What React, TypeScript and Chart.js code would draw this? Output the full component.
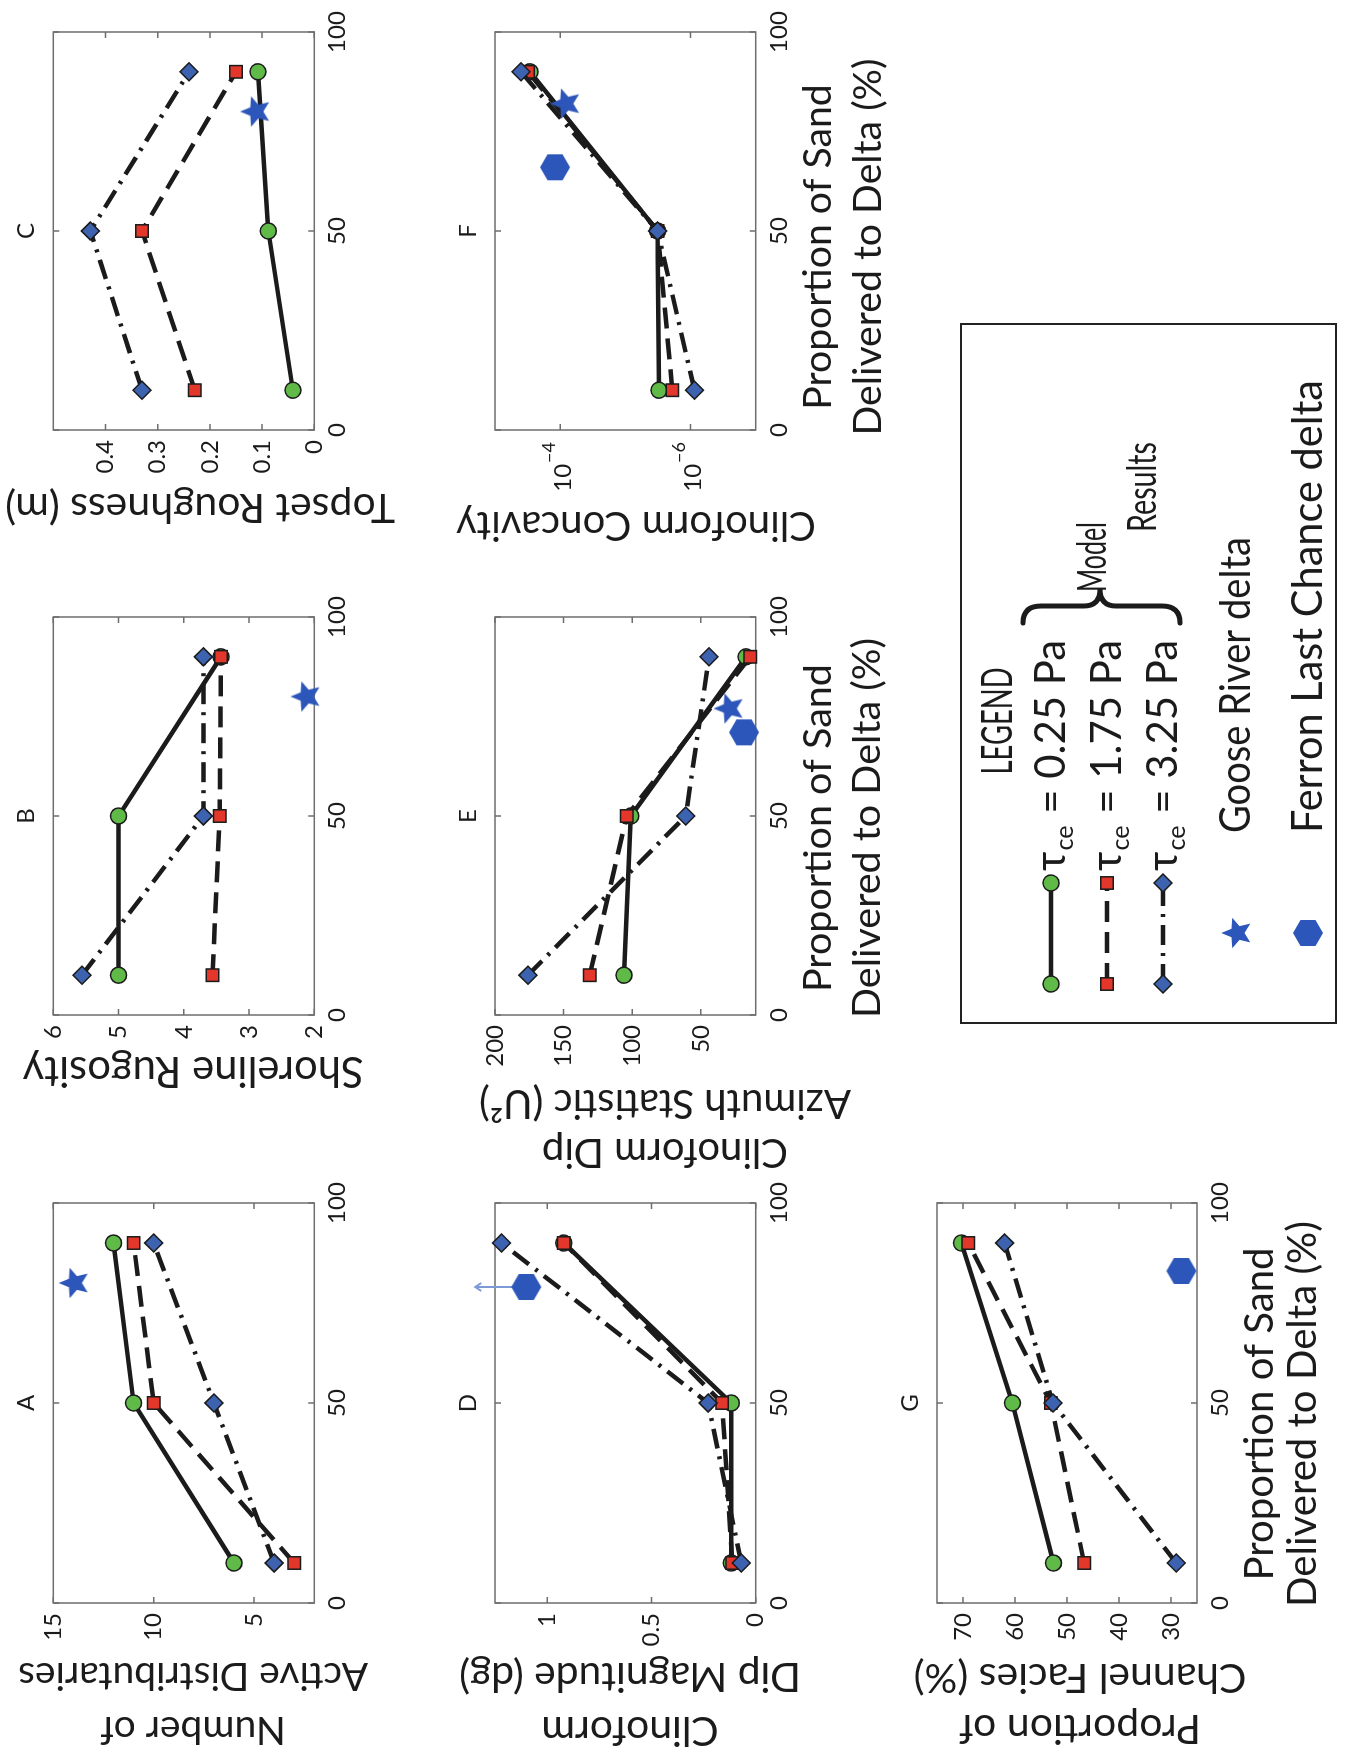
import React, { useEffect, useRef } from "react";
import { Chart, registerables } from "chart.js";

Chart.register(...registerables);

// ---------- frame (the original figure is drawn upright, then turned 90° CCW) ----------
const W = 1753;
const H = 1355;
const FONT = "Lato, 'Open Sans', 'DejaVu Sans', sans-serif";
const GREEN = "#5fba47";
const RED = "#e2372a";
const BLUE = "#3d62b0";
const FIELD = "#2c56b9";
const INK = "#1b1b1b";
const FRAME = "#6e6e6e";
const Y_AXIS_W = 90;
const X_AXIS_H = 40;
const TICK_SIZE = 24;

// ---------- data ----------
const sandPct = [10, 50, 90];
const xTickValues = [0, 50, 100];

const aTau025 = [6, 11, 12];
const aTau175 = [3, 10, 11];
const aTau325 = [4, 7, 10];
const aGoose = [{ x: 80, y: 14 }];
const aTicks = [5, 10, 15];

const bTau025 = [5.0, 5.0, 3.43];
const bTau175 = [3.56, 3.45, 3.43];
const bTau325 = [5.56, 3.7, 3.7];
const bGoose = [{ x: 80, y: 2.14 }];
const bTicks = [2, 3, 4, 5, 6];

const cTau025 = [0.041, 0.088, 0.108];
const cTau175 = [0.229, 0.33, 0.15];
const cTau325 = [0.33, 0.429, 0.24];
const cGoose = [{ x: 80, y: 0.114 }];
const cTicks = [0, 0.1, 0.2, 0.3, 0.4];

const dTau025 = [0.117, 0.117, 0.92];
const dTau175 = [0.112, 0.161, 0.92];
const dTau325 = [0.069, 0.228, 1.219];
const dFerron = [{ x: 79, y: 1.1 }];
const dFerronArrowTip = 1.345;
const dTicks = [0, 0.5, 1];

const eTau025 = [106, 101, 17];
const eTau175 = [131, 104, 14];
const eTau325 = [176, 61, 44];
const eGoose = [{ x: 77, y: 30 }];
const eFerron = [{ x: 71, y: 18.5 }];
const eTicks = [50, 100, 150, 200];

const fTau025 = [3.05e-6, 3.2e-6, 2.9e-4];
const fTau175 = [1.9e-6, 3.2e-6, 3.1e-4];
const fTau325 = [8.7e-7, 3.2e-6, 4.0e-4];
const fGoose = [{ x: 82, y: 8.5e-5 }];
const fFerron = [{ x: 66, y: 1.2e-4 }];
const fTicks = [1e-6, 1e-4];
const fTickExp = [-6, -4];

const gTau025 = [52.6, 60.5, 70.3];
const gTau175 = [46.7, 53.1, 69.0];
const gTau325 = [29.0, 52.7, 62.0];
const gFerron = [{ x: 83, y: 28 }];
const gTicks = [30, 40, 50, 60, 70];

const legendTau = [" = 0.25 Pa", " = 1.75 Pa", " = 3.25 Pa"];

const X_TITLE = ["Proportion of Sand", "Delivered to Delta (%)"];

// ---------- panel layout ----------
const PANELS: any[] = [
  {
    id: "A", area: [150, 53.3, 550, 314.3], yMin: 2, yMax: 15, yTicks: aTicks,
    s025: aTau025, s175: aTau175, s325: aTau325, goose: aGoose,
    yTitle: { lines: ["Number of", "Active Distributaries"], xs: [23, 77], y: 193, fit: 350 },
  },
  {
    id: "B", area: [738, 53.3, 1136, 314.3], yMin: 2, yMax: 6, yTicks: bTicks,
    s025: bTau025, s175: bTau175, s325: bTau325, goose: bGoose,
    yTitle: { lines: ["Shoreline Rugosity"], xs: [682], y: 193, fit: 341 },
  },
  {
    id: "C", area: [1323, 53.3, 1721, 314.3], yMin: 0, yMax: 0.5, yTicks: cTicks,
    s025: cTau025, s175: cTau175, s325: cTau325, goose: cGoose,
    yTitle: { lines: ["Topset Roughness (m)"], xs: [1246], y: 200, fit: 390 },
  },
  {
    id: "D", area: [150, 495, 550, 755.7], yMin: 0, yMax: 1.25, yTicks: dTicks,
    s025: dTau025, s175: dTau175, s325: dTau325, ferron: dFerron, arrowTip: dFerronArrowTip,
    yTitle: { lines: ["Clinoform", "Dip Magnitude (dg)"], xs: [23, 77], y: 630, fit: 342 },
  },
  {
    id: "E", area: [738, 495, 1136, 755.7], yMin: 10, yMax: 200, yTicks: eTicks,
    s025: eTau025, s175: eTau175, s325: eTau325, goose: eGoose, ferron: eFerron,
    yTitle: { lines: ["Clinoform Dip", "Azimuth Statistic (U\u00B2)"], xs: [601, 650], y: 665, fit: 372 },
    xTitle: { x: 925, ys: [818, 867], fit: 380 },
  },
  {
    id: "F", area: [1323, 495, 1721, 755.7], yMin: 1e-7, yMax: 1e-3, yTicks: fTicks, log: true,
    s025: fTau025, s175: fTau175, s325: fTau325, goose: fGoose, ferron: fFerron,
    yTitle: { lines: ["Clinoform Concavity"], xs: [1228], y: 636, fit: 360 },
    xTitle: { x: 1506, ys: [818, 868], fit: 377 },
  },
  {
    id: "G", area: [150, 937, 550, 1197], yMin: 25, yMax: 75, yTicks: gTicks,
    s025: gTau025, s175: gTau175, s325: gTau325, ferron: gFerron,
    yTitle: { lines: ["Proportion of", "Channel Facies (%)"], xs: [25, 76], y: 1080, fit: 333 },
    xTitle: { x: 339, ys: [1260, 1303], fit: 386 },
    legend: true,
  },
];

// ---------- helpers ----------
function fitSize(ctx: CanvasRenderingContext2D, text: string, width: number) {
  ctx.font = `100px ${FONT}`;
  return (100 * width) / ctx.measureText(text).width;
}

// text in a given font size, squeezed horizontally to a given width (condensed look)
function drawCondensed(
  ctx: CanvasRenderingContext2D, text: string, x: number, y: number,
  size: number, width: number, align: "left" | "center"
) {
  ctx.save();
  ctx.font = `${size}px ${FONT}`;
  const k = width / ctx.measureText(text).width;
  ctx.translate(x, y);
  ctx.scale(k, 1);
  ctx.textAlign = align;
  ctx.textBaseline = "middle";
  ctx.fillText(text, 0, 0);
  ctx.restore();
}

function makeStar(r: number) {
  const c = document.createElement("canvas");
  c.width = c.height = Math.ceil(2 * r + 4);
  const ctx = c.getContext("2d")!;
  ctx.translate(c.width / 2, c.height / 2 + r * 0.08);
  ctx.beginPath();
  for (let i = 0; i < 10; i++) {
    const rad = i % 2 ? r * 0.45 : r;
    const a = -Math.PI / 2 + (i * Math.PI) / 5;
    ctx.lineTo(rad * Math.cos(a), rad * Math.sin(a));
  }
  ctx.closePath();
  ctx.fillStyle = FIELD;
  ctx.fill();
  return c;
}

function makeHex(r: number) {
  const c = document.createElement("canvas");
  c.width = c.height = Math.ceil(2 * r + 4);
  const ctx = c.getContext("2d")!;
  ctx.translate(c.width / 2, c.height / 2);
  ctx.beginPath();
  for (let i = 0; i < 6; i++) {
    const a = -Math.PI / 2 + (i * Math.PI) / 3;
    ctx.lineTo(r * Math.cos(a), r * Math.sin(a));
  }
  ctx.closePath();
  ctx.fillStyle = FIELD;
  ctx.fill();
  return c;
}

function drawMarker(ctx: CanvasRenderingContext2D, kind: string, x: number, y: number) {
  ctx.save();
  ctx.setLineDash([]);
  ctx.lineWidth = 1.5;
  ctx.strokeStyle = INK;
  ctx.beginPath();
  if (kind === "circle") {
    ctx.arc(x, y, 8, 0, Math.PI * 2);
    ctx.fillStyle = GREEN;
  } else if (kind === "square") {
    ctx.rect(x - 6.2, y - 6.2, 12.4, 12.4);
    ctx.fillStyle = RED;
  } else {
    ctx.moveTo(x - 9, y);
    ctx.lineTo(x, y - 9);
    ctx.lineTo(x + 9, y);
    ctx.lineTo(x, y + 9);
    ctx.closePath();
    ctx.fillStyle = BLUE;
  }
  ctx.fill();
  ctx.stroke();
  ctx.restore();
}

const DASH_175 = [21, 10];
const DASH_325 = [20, 8, 3, 8];

function drawLegend(ctx: CanvasRenderingContext2D, star: HTMLCanvasElement, hex: HTMLCanvasElement) {
  ctx.save();
  ctx.strokeStyle = "#222";
  ctx.lineWidth = 2;
  ctx.strokeRect(730, 961, 699, 375);
  ctx.fillStyle = INK;

  drawCondensed(ctx, "LEGEND", 1032, 998, 42, 107, "center");

  // model rows
  const rowsY = [1051, 1107, 1163];
  const kinds = ["circle", "square", "diamond"];
  const dashes = [[], DASH_175, DASH_325];
  ctx.font = `100px ${FONT}`;
  const wTau = ctx.measureText("\u03C4").width;
  ctx.font = `60px ${FONT}`;
  const wCe = ctx.measureText("ce").width;
  ctx.font = `100px ${FONT}`;
  const wRest = ctx.measureText(legendTau[0]).width;
  const ts = (100 * 230) / (wTau + wCe + 2 + wRest);
  rowsY.forEach((y, i) => {
    ctx.save();
    ctx.strokeStyle = INK;
    ctx.lineWidth = 4.5;
    ctx.setLineDash(dashes[i]);
    ctx.beginPath();
    ctx.moveTo(769, y);
    ctx.lineTo(870, y);
    ctx.stroke();
    ctx.restore();
    drawMarker(ctx, kinds[i], 769, y);
    drawMarker(ctx, kinds[i], 870, y);
    ctx.textAlign = "left";
    ctx.textBaseline = "middle";
    let x = 882;
    ctx.font = `${ts}px ${FONT}`;
    ctx.fillText("\u03C4", x, y);
    x += ctx.measureText("\u03C4").width + 1;
    ctx.font = `${ts * 0.6}px ${FONT}`;
    ctx.fillText("ce", x, y + ts * 0.32);
    x += ctx.measureText("ce").width + 1;
    ctx.font = `${ts}px ${FONT}`;
    ctx.fillText(legendTau[i], x, y);
  });

  // brace
  const x0 = 1130, x1 = 1164, y0 = 1023, y1 = 1180, ym = 1100;
  const xm = (x0 + x1) / 2;
  ctx.save();
  ctx.strokeStyle = INK;
  ctx.lineWidth = 5;
  ctx.lineCap = "round";
  ctx.beginPath();
  ctx.moveTo(x0, y0);
  ctx.quadraticCurveTo(xm, y0, xm, y0 + 18);
  ctx.lineTo(xm, ym - 16);
  ctx.quadraticCurveTo(xm, ym, x1, ym);
  ctx.quadraticCurveTo(xm, ym, xm, ym + 16);
  ctx.lineTo(xm, y1 - 18);
  ctx.quadraticCurveTo(xm, y1, x0, y1);
  ctx.stroke();
  ctx.restore();

  drawCondensed(ctx, "Model", 1196, 1093, 40, 70, "center");
  drawCondensed(ctx, "Results", 1266, 1143, 40, 90, "center");

  // field data
  ctx.drawImage(star, 820 - star.width / 2, 1236 - star.height / 2);
  ctx.drawImage(hex, 820 - hex.width / 2, 1308 - hex.height / 2);
  drawCondensed(ctx, "Goose River delta", 920, 1236, 42, 296, "left");
  drawCondensed(ctx, "Ferron Last Chance delta", 920, 1308, 42, 453, "left");
  ctx.restore();
}

function panelPlugin(p: any, star: HTMLCanvasElement, hex: HTMLCanvasElement) {
  return {
    id: "panel" + p.id,
    beforeDatasetsDraw(chart: any) {
      const ctx = chart.ctx as CanvasRenderingContext2D;
      const { left, right, top, bottom } = chart.chartArea;
      const xs = chart.scales.x;
      const ys = chart.scales.y;
      ctx.save();
      ctx.strokeStyle = FRAME;
      ctx.lineWidth = 1.5;
      ctx.beginPath();
      for (const v of xTickValues) {
        const px = xs.getPixelForValue(v);
        ctx.moveTo(px, bottom);
        ctx.lineTo(px, bottom - 6);
        ctx.moveTo(px, top);
        ctx.lineTo(px, top + 6);
      }
      for (const v of p.yTicks) {
        const py = ys.getPixelForValue(v);
        ctx.moveTo(left, py);
        ctx.lineTo(left + 6, py);
        ctx.moveTo(right, py);
        ctx.lineTo(right - 6, py);
      }
      ctx.stroke();
      ctx.strokeRect(left, top, right - left, bottom - top);
      if (p.arrowTip && p.ferron) {
        const px = xs.getPixelForValue(p.ferron[0].x);
        const py0 = ys.getPixelForValue(p.ferron[0].y);
        const py1 = ys.getPixelForValue(p.arrowTip);
        ctx.strokeStyle = "#7d9ad6";
        ctx.lineWidth = 2;
        ctx.beginPath();
        ctx.moveTo(px, py0);
        ctx.lineTo(px, py1);
        ctx.moveTo(px - 4, py1 + 6);
        ctx.lineTo(px, py1);
        ctx.lineTo(px + 4, py1 + 6);
        ctx.stroke();
      }
      ctx.restore();
    },
    afterDraw(chart: any) {
      const ctx = chart.ctx as CanvasRenderingContext2D;
      const { left, right, top } = chart.chartArea;
      ctx.save();
      ctx.fillStyle = INK;
      // panel letter
      ctx.font = `24px ${FONT}`;
      ctx.textAlign = "center";
      ctx.textBaseline = "middle";
      ctx.fillText(p.id, (left + right) / 2, top - 27);

      // y-axis title (rotated)
      const yt = p.yTitle;
      const longest = yt.lines.reduce((a: string, b: string) => (b.length > a.length ? b : a), "");
      const ysz = fitSize(ctx, longest, yt.fit);
      ctx.font = `${ysz}px ${FONT}`;
      ctx.textAlign = "center";
      ctx.textBaseline = "middle";
      yt.lines.forEach((line: string, i: number) => {
        ctx.save();
        ctx.translate(yt.xs[i], yt.y);
        ctx.rotate(-Math.PI / 2);
        ctx.fillText(line, 0, 0);
        ctx.restore();
      });

      // x-axis title
      if (p.xTitle) {
        const xsz = fitSize(ctx, X_TITLE[1], p.xTitle.fit);
        ctx.font = `${xsz}px ${FONT}`;
        ctx.textAlign = "center";
        ctx.textBaseline = "middle";
        X_TITLE.forEach((line, i) => ctx.fillText(line, p.xTitle.x, p.xTitle.ys[i]));
      }

      // log tick labels (10 with superscript exponent)
      if (p.log) {
        const yScale = chart.scales.y;
        ctx.textBaseline = "middle";
        p.yTicks.forEach((v: number, i: number) => {
          const py = yScale.getPixelForValue(v);
          const sup = "\u2212" + Math.abs(fTickExp[i]);
          ctx.font = `18px ${FONT}`;
          const wSup = ctx.measureText(sup).width;
          ctx.textAlign = "right";
          ctx.fillText(sup, left - 12, py - 11);
          ctx.font = `${TICK_SIZE}px ${FONT}`;
          ctx.fillText("10", left - 13 - wSup, py + 3);
        });
      }

      if (p.legend) drawLegend(ctx, star, hex);
      ctx.restore();
    },
  };
}

function makeConfig(p: any, star: HTMLCanvasElement, hex: HTMLCanvasElement) {
  const [L, T, R, B] = p.area;
  const pts = (vals: number[]) => sandPct.map((x, i) => ({ x, y: vals[i] }));
  const datasets: any[] = [];
  if (p.ferron)
    datasets.push({ data: p.ferron, pointStyle: hex, pointRadius: 15, showLine: false, order: 0, clip: false });
  if (p.goose)
    datasets.push({ data: p.goose, pointStyle: star, pointRadius: 15, showLine: false, order: 1, clip: false });
  const lineBase = {
    showLine: true,
    borderColor: INK,
    borderWidth: 4.5,
    borderJoinStyle: "round",
    pointBorderColor: INK,
    pointBorderWidth: 1.5,
    clip: false,
  };
  datasets.push({ ...lineBase, data: pts(p.s325), borderDash: DASH_325, pointStyle: "rectRot", pointRadius: 9, pointBackgroundColor: BLUE, order: 2 });
  datasets.push({ ...lineBase, data: pts(p.s175), borderDash: DASH_175, pointStyle: "rect", pointRadius: 8.8, pointBackgroundColor: RED, order: 3 });
  datasets.push({ ...lineBase, data: pts(p.s025), pointStyle: "circle", pointRadius: 8, pointBackgroundColor: GREEN, order: 4 });

  const tickFont = { family: FONT, size: TICK_SIZE };
  return {
    type: "scatter",
    data: { datasets },
    options: {
      responsive: false,
      maintainAspectRatio: false,
      animation: false,
      devicePixelRatio: 1,
      events: [],
      layout: {
        padding: { left: L - Y_AXIS_W, top: T, right: W - R, bottom: H - B - X_AXIS_H },
        autoPadding: false,
      },
      plugins: { legend: { display: false }, tooltip: { enabled: false }, title: { display: false } },
      scales: {
        x: {
          type: "linear",
          min: 0,
          max: 100,
          afterBuildTicks: (s: any) => { s.ticks = xTickValues.map((v) => ({ value: v })); },
          afterFit: (s: any) => { s.height = X_AXIS_H; },
          grid: { display: false, drawTicks: false },
          border: { display: false },
          ticks: { font: tickFont, color: INK, padding: 9, maxRotation: 0, minRotation: 0, autoSkip: false, callback: (v: any) => String(v) },
        },
        y: {
          type: p.log ? "logarithmic" : "linear",
          min: p.yMin,
          max: p.yMax,
          afterBuildTicks: (s: any) => { s.ticks = p.yTicks.map((v: number) => ({ value: v })); },
          afterFit: (s: any) => { s.width = Y_AXIS_W; },
          grid: { display: false, drawTicks: false },
          border: { display: false },
          ticks: { display: !p.log, font: tickFont, color: INK, padding: 10, autoSkip: false, callback: (v: any) => String(v) },
        },
      },
    },
    plugins: [panelPlugin(p, star, hex)],
  };
}

function Panel({ p }: { p: any }) {
  const ref = useRef<HTMLCanvasElement | null>(null);
  useEffect(() => {
    const star = makeStar(16);
    const hex = makeHex(15);
    const chart = new Chart(ref.current as HTMLCanvasElement, makeConfig(p, star, hex) as any);
    return () => chart.destroy();
  }, [p]);
  return (
    <canvas
      ref={ref}
      width={W}
      height={H}
      style={{ position: "absolute", left: 0, top: 0, width: W, height: H }}
    />
  );
}

export default function App() {
  return (
    <div
      style={{
        position: "absolute",
        left: 0,
        top: 0,
        width: H,
        height: W,
        overflow: "hidden",
        background: "#ffffff",
      }}
    >
      <div
        style={{
          position: "absolute",
          left: 0,
          top: 0,
          width: W,
          height: H,
          transformOrigin: "0 0",
          transform: `translateY(${W}px) rotate(-90deg)`,
        }}
      >
        {PANELS.map((p) => (
          <Panel key={p.id} p={p} />
        ))}
      </div>
    </div>
  );
}
